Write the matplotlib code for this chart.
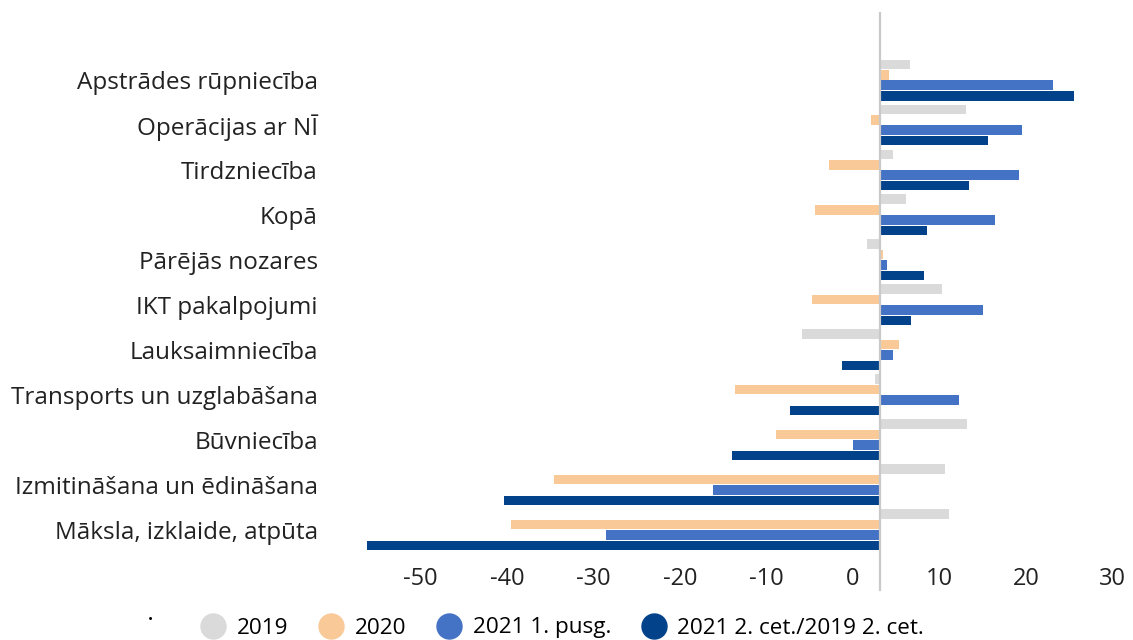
import matplotlib
matplotlib.use("Agg")
import matplotlib.pyplot as plt
import matplotlib.transforms as mtransforms
from matplotlib.lines import Line2D
import numpy as np

plt.rcParams['font.family'] = ['Open Sans', 'DejaVu Sans']

# categories, top to bottom
categories = ["Apstrādes rūpniecība", "Operācijas ar NĪ", "Tirdzniecība", "Kopā",
              "Pārējās nozares", "IKT pakalpojumi", "Lauksaimniecība",
              "Transports un uzglabāšana", "Būvniecība",
              "Izmitināšana un ēdināšana", "Māksla, izklaide, atpūta"]

v2019 = [3.5, 9.9, 1.5, 3.0, -1.5, 7.2, -9.0, -0.6, 10.0, 7.5, 8.0]
v2020 = [1.0, -1.0, -5.9, -7.5, 0.3, -7.9, 2.2, -16.8, -12.0, -37.7, -42.7]
v2021h1 = [20.0, 16.4, 16.1, 13.3, 0.8, 11.9, 1.5, 9.1, -3.1, -19.3, -31.7]
v2021q2 = [22.4, 12.5, 10.3, 5.4, 5.1, 3.6, -4.4, -10.4, -17.1, -43.5, -59.3]

series = [("2019", v2019, "#DADADA"),
          ("2020", v2020, "#F9CA98"),
          ("2021 1. pusg.", v2021h1, "#4472C4"),
          ("2021 2. cet./2019 2. cet.", v2021q2, "#02428A")]

xticks = [-50, -40, -30, -20, -10, 0, 10, 20, 30]

fig = plt.figure(figsize=(11.33, 6.4), dpi=100)
W, H = 1133, 640
# axes box in pixels: x 361..1144, y 13..560
ax = fig.add_axes([361 / W, (H - 560) / H, 783 / W, 547 / H])

y = np.arange(len(categories))
step = 0.233
for k, (name, vals, col) in enumerate(series):
    ax.barh(y + (k - 1.5) * step, vals, height=0.212, color=col, label=name)

ax.set_xlim(-60, 30.5)
ax.set_ylim(10.67, -1.49)

ax.axvline(0, ymin=-0.055, ymax=1, color="#C9C9C9", lw=1.6, clip_on=False, zorder=3)

for s in ax.spines.values():
    s.set_visible(False)

ax.set_yticks(y)
ax.set_yticklabels(categories, fontsize=17.5, color="#222222")
ax.tick_params(axis="y", length=0, pad=31)

ax.set_xticks(xticks)
ax.set_xticklabels([str(t) for t in xticks], fontsize=17, color="#222222")
ax.tick_params(axis="x", length=0, pad=5)
shift = mtransforms.ScaledTranslation(-27 / 100, 0, fig.dpi_scale_trans)
for lab in ax.get_xticklabels():
    lab.set_transform(lab.get_transform() + shift)

handles = [Line2D([], [], marker="o", linestyle="none", markersize=18,
                  markerfacecolor=col, markeredgecolor=col, label=name)
           for name, vals, col in series]
fig.legend(handles=handles, loc="center", bbox_to_anchor=(562 / W, 1 - 628 / H),
           ncol=4, frameon=False, fontsize=16.2, handletextpad=0.45,
           columnspacing=1.3, handlelength=1.2, borderpad=0)
fig.text(150 / W, 1 - 621 / H, "•", fontsize=10, ha="center", va="center")

fig.savefig("out.png", dpi=100)
